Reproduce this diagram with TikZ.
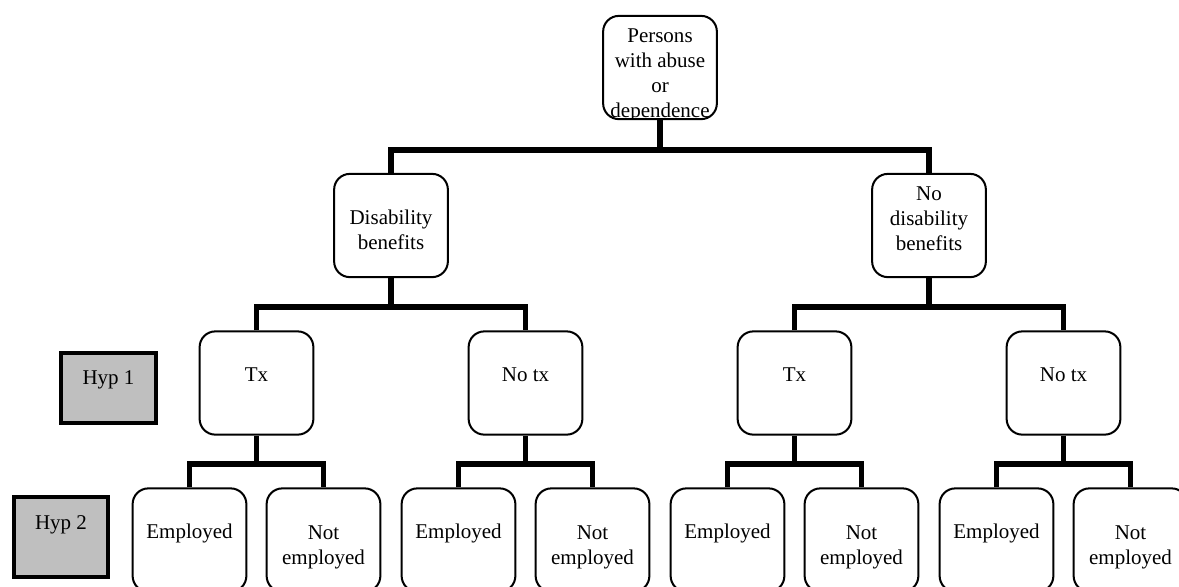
\documentclass[tikz,border=0pt]{standalone}
\usepackage{fontspec}
\setmainfont{Liberation Serif}
\usepackage{tikz}
\tikzset{box/.style={draw, fill=white, rounded corners=9pt, line width=1.15pt, minimum width=65pt, minimum height=59pt, align=center, inner sep=1pt, font=\fontsize{12}{14.3}\selectfont},
  lift/.style={text depth=#1}, bar/.style={line width=2.9pt},
  hyp/.style={draw, fill=black!25, line width=2.3pt, font=\fontsize{12}{14.3}\selectfont}}

\begin{document}
\begin{tikzpicture}[x=0.5714pt, y=-0.5714pt]
      \useasboundingbox (0,0) rectangle (1179,586);
      \def\first{269}
      \def\second{134.5}
      \def\third{67}
      \def\down{\rule{0pt}{16pt}}
      % root text is cut off by its box
      \node [box, path picture={\node [align=center, font=\fontsize{12}{14.3}\selectfont] (-t) at ([yshift=-4.3pt]path picture bounding box.center) {Persons\\with abuse\\or\\dependence};}] (-) at (660,67.5) {};
      \node [box] (0) at (660-\first,225.5) {\rule{0pt}{13.7pt}Disability\\benefits};
      \node [box] (1) at (660+\first,225.5) {No\\disability\\benefits\rule[-8pt]{0pt}{8pt}};
      \node [box, lift=10pt] (00) at (660-\first-\second,383) {Tx};
      \node [box, lift=10pt] (01) at (660-\first+\second,383) {No tx};
      \node [box, lift=10pt] (10) at (660+\first-\second,383) {Tx};
      \node [box, lift=10pt] (11) at (660+\first+\second,383) {No tx};
      \node [box, lift=10pt] (000) at (660-\first-\second-\third,540) {Employed};
      \node [box] (001) at (660-\first-\second+\third,540) {\down Not\\employed};
      \node [box, lift=10pt] (010) at (660-\first+\second-\third,540) {Employed};
      \node [box] (011) at (660-\first+\second+\third,540) {\down Not\\employed};
      \node [box, lift=10pt] (100) at (660+\first-\second-\third,540) {Employed};
      \node [box] (101) at (660+\first-\second+\third,540) {\down Not\\employed};
      \node [box, lift=10pt] (110) at (660+\first+\second-\third,540) {Employed};
      \node [box] (111) at (660+\first+\second+\third,540) {\down Not\\employed};
      \node [hyp, minimum width=54.3pt, minimum height=40pt, lift=11.5pt] (h1) at (108.5,388) {Hyp 1};
      \node [hyp, minimum width=53.7pt, minimum height=45.7pt, lift=17pt] (h2) at (61,537) {Hyp 2};
      \coordinate (j-) at (660,150);
      \coordinate (j0) at (660-\first,307);
      \coordinate (j1) at (660+\first,307);
      \coordinate (j00) at (660-\first-\second,464);
      \coordinate (j01) at (660-\first+\second,464);
      \coordinate (j10) at (660+\first-\second,464);
      \coordinate (j11) at (660+\first+\second,464);
      \draw [bar] (-) -- (j-);
      \draw [bar] (0) |- (j-) -| (1);
      \draw [bar] (0) -- (j0);
      \draw [bar] (00) |- (j0) -| (01);
      \draw [bar] (1) -- (j1);
      \draw [bar] (10) |- (j1) -| (11);
      \draw [bar] (00) -- (j00);
      \draw [bar] (000) |- (j00) -| (001);
      \draw [bar] (01) -- (j01);
      \draw [bar] (010) |- (j01) -| (011);
      \draw [bar] (10) -- (j10);
      \draw [bar] (100) |- (j10) -| (101);
      \draw [bar] (11) -- (j11);
      \draw [bar] (110) |- (j11) -| (111);
    \end{tikzpicture}
\end{document}
